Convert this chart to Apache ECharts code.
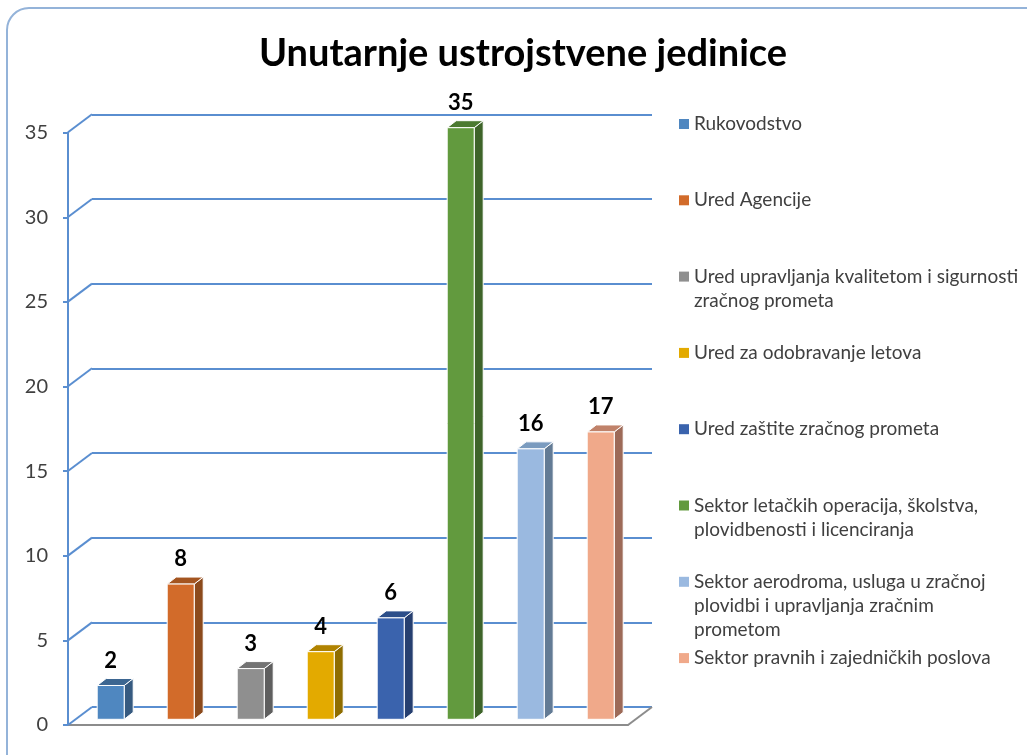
<!DOCTYPE html>
<html>
<head>
<meta charset="utf-8">
<title>Unutarnje ustrojstvene jedinice</title>
<script src="https://cdn.jsdelivr.net/npm/echarts@6/dist/echarts.min.js"></script>
<style>
  html, body { margin: 0; padding: 0; background: #fff; }
  #chart { width: 1027px; height: 755px; }
</style>
</head>
<body>
<div id="chart"></div>
<script>
// data
var units = [
  'Rukovodstvo',
  'Ured Agencije',
  'Ured upravljanja kvalitetom i sigurnosti zračnog prometa',
  'Ured za odobravanje letova',
  'Ured zaštite zračnog prometa',
  'Sektor letačkih operacija, školstva, plovidbenosti i licenciranja',
  'Sektor aerodroma, usluga u zračnoj plovidbi i upravljanja zračnim prometom',
  'Sektor pravnih i zajedničkih poslova'
];
var legendLines = [
  ['Rukovodstvo'],
  ['Ured Agencije'],
  ['Ured upravljanja kvalitetom i sigurnosti', 'zračnog prometa'],
  ['Ured za odobravanje letova'],
  ['Ured zaštite zračnog prometa'],
  ['Sektor letačkih operacija, školstva,', 'plovidbenosti i licenciranja'],
  ['Sektor aerodroma, usluga u zračnoj', 'plovidbi i upravljanja zračnim', 'prometom'],
  ['Sektor pravnih i zajedničkih poslova']
];
var employees = [2, 8, 3, 4, 6, 35, 16, 17];
var yTicks = [0, 5, 10, 15, 20, 25, 30, 35];

// colours: front / top / side face
var frontColors = ['#4F87C0', '#D26B2A', '#8F8F8F', '#E3AA00', '#3A63AD', '#629A3E', '#9AB9E0', '#F0A98A'];
var topColors   = ['#3C6691', '#A45520', '#737373', '#B08300', '#2D4F8A', '#4B7A30', '#7A9BBF', '#C0826A'];
var sideColors  = ['#365A80', '#8C4A1C', '#5F5F5F', '#8F6D00', '#263F70', '#3E6429', '#637B95', '#9D6A58'];

var FONT = 'Lato, "Open Sans", sans-serif';
var BLUE = '#5A8ED0';
var DX = 24, DY = -18;      // depth of the wall
var BDX = 9, BDY = -7;      // depth of a bar
var BAR_W = 27;

var chart = echarts.init(document.getElementById('chart'));

function barRenderer(i) {
  return function (params, api) {
    var base = api.coord([api.value(0), 0]);
    var top = api.coord([api.value(0), api.value(1)]);
    var x0 = top[0] - BAR_W / 2, x1 = x0 + BAR_W;
    var yb = base[1], yt = top[1];
    var edge = { stroke: '#fff', lineWidth: 1 };
    return {
      type: 'group',
      children: [
        { type: 'polygon', shape: { points: [[x1, yb], [x1 + BDX, yb + BDY], [x1 + BDX, yt + BDY], [x1, yt]] },
          style: Object.assign({ fill: sideColors[i] }, edge) },
        { type: 'polygon', shape: { points: [[x0, yt], [x1, yt], [x1 + BDX, yt + BDY], [x0 + BDX, yt + BDY]] },
          style: Object.assign({ fill: topColors[i] }, edge) },
        { type: 'rect', shape: { x: x0, y: yt, width: BAR_W, height: yb - yt },
          style: Object.assign({ fill: frontColors[i] }, edge) },
        { type: 'text', style: { text: String(api.value(1)), x: top[0], y: yt - 25,
          align: 'center', verticalAlign: 'middle', fill: '#000',
          fontSize: 22, fontWeight: 'bold', fontFamily: FONT } }
      ]
    };
  };
}

// blue diagonals from front axis to back wall + grey right floor edge
function wallRenderer(params, api) {
  var cs = params.coordSys;
  var y = api.coord([0, api.value(1)])[1];
  var kids = [
    { type: 'line', shape: { x1: cs.x - DX, y1: y - DY, x2: cs.x, y2: y },
      style: { stroke: BLUE, lineWidth: 2 } }
  ];
  if (api.value(1) === 0) {
    kids.push({ type: 'line',
      shape: { x1: cs.x + cs.width - DX, y1: cs.y + cs.height - DY, x2: cs.x + cs.width, y2: cs.y + cs.height },
      style: { stroke: '#8C8C8C', lineWidth: 2 } });
  }
  return { type: 'group', children: kids };
}

var series = units.map(function (name, i) {
  return {
    type: 'custom',
    name: name,
    xAxisIndex: 1,
    yAxisIndex: 1,
    itemStyle: { color: frontColors[i] },
    renderItem: barRenderer(i),
    data: [[i, employees[i]]],
    z: 5
  };
});
series.push({
  type: 'custom',
  name: 'wall',
  xAxisIndex: 2,
  yAxisIndex: 2,
  renderItem: wallRenderer,
  data: yTicks.map(function (v) { return [0, v]; }),
  silent: true,
  z: 1
});

var legends = units.map(function (name, i) {
  var lines = legendLines[i];
  var pad = [];
  for (var k = 1; k < lines.length; k++) pad.push('');
  var total = pad.length + lines.length;
  return {
    data: [name],
    left: 679,
    top: 124 + 76.3 * i - total * 12,
    padding: 0,
    icon: 'rect',
    itemWidth: 10,
    itemHeight: 10,
    selectedMode: false,
    formatter: function () { return pad.concat(lines).join('\n'); },
    textStyle: { fontSize: 19, lineHeight: 24, color: '#404040', fontFamily: FONT }
  };
});

var hiddenCat = {
  type: 'category', data: units,
  axisLine: { show: false }, axisTick: { show: false }, axisLabel: { show: false }, splitLine: { show: false }
};

var option = {
  animation: false,
  backgroundColor: '#fff',
  textStyle: { fontFamily: FONT },
  title: {
    text: 'Unutarnje ustrojstvene jedinice',
    left: 518,
    top: 30,
    textAlign: 'center',
    textStyle: { fontSize: 38, fontWeight: 'bold', color: '#000', fontFamily: FONT }
  },
  legend: legends,
  grid: [
    { left: 68, top: 132.7, width: 560, height: 592.3 },   // front plane
    { left: 75.7, top: 127.7, width: 560, height: 591.6 }, // bar plane
    { left: 92, top: 114.3, width: 560, height: 592.7 }    // back wall
  ],
  xAxis: [
    { type: 'category', data: units, gridIndex: 0,
      axisLine: { show: true, lineStyle: { color: '#8C8C8C', width: 2 } },
      axisTick: { show: false }, axisLabel: { show: false } },
    Object.assign({ gridIndex: 1 }, hiddenCat),
    Object.assign({ gridIndex: 2 }, hiddenCat)
  ],
  yAxis: [
    { type: 'value', gridIndex: 0, min: 0, max: 35, interval: 5,
      axisLine: { show: true, lineStyle: { color: BLUE, width: 2 } },
      axisTick: { show: true, length: 5, lineStyle: { color: BLUE, width: 2 } },
      axisLabel: { fontSize: 20, color: '#404040', margin: 20, fontFamily: FONT },
      splitLine: { show: false } },
    { type: 'value', gridIndex: 1, min: 0, max: 35, interval: 5, show: false, splitLine: { show: false } },
    { type: 'value', gridIndex: 2, min: 0, max: 35, interval: 5,
      axisLine: { show: false }, axisTick: { show: false }, axisLabel: { show: false },
      splitLine: { show: true, lineStyle: { color: BLUE, width: 2 } } }
  ],
  graphic: [
    { type: 'rect', shape: { x: 7, y: 8, width: 1045, height: 775, r: 22 }, silent: true, z: -10,
      style: { fill: 'none', stroke: '#94B3D9', lineWidth: 2 } }
  ],
  series: series
};

chart.setOption(option);
</script>
</body>
</html>
